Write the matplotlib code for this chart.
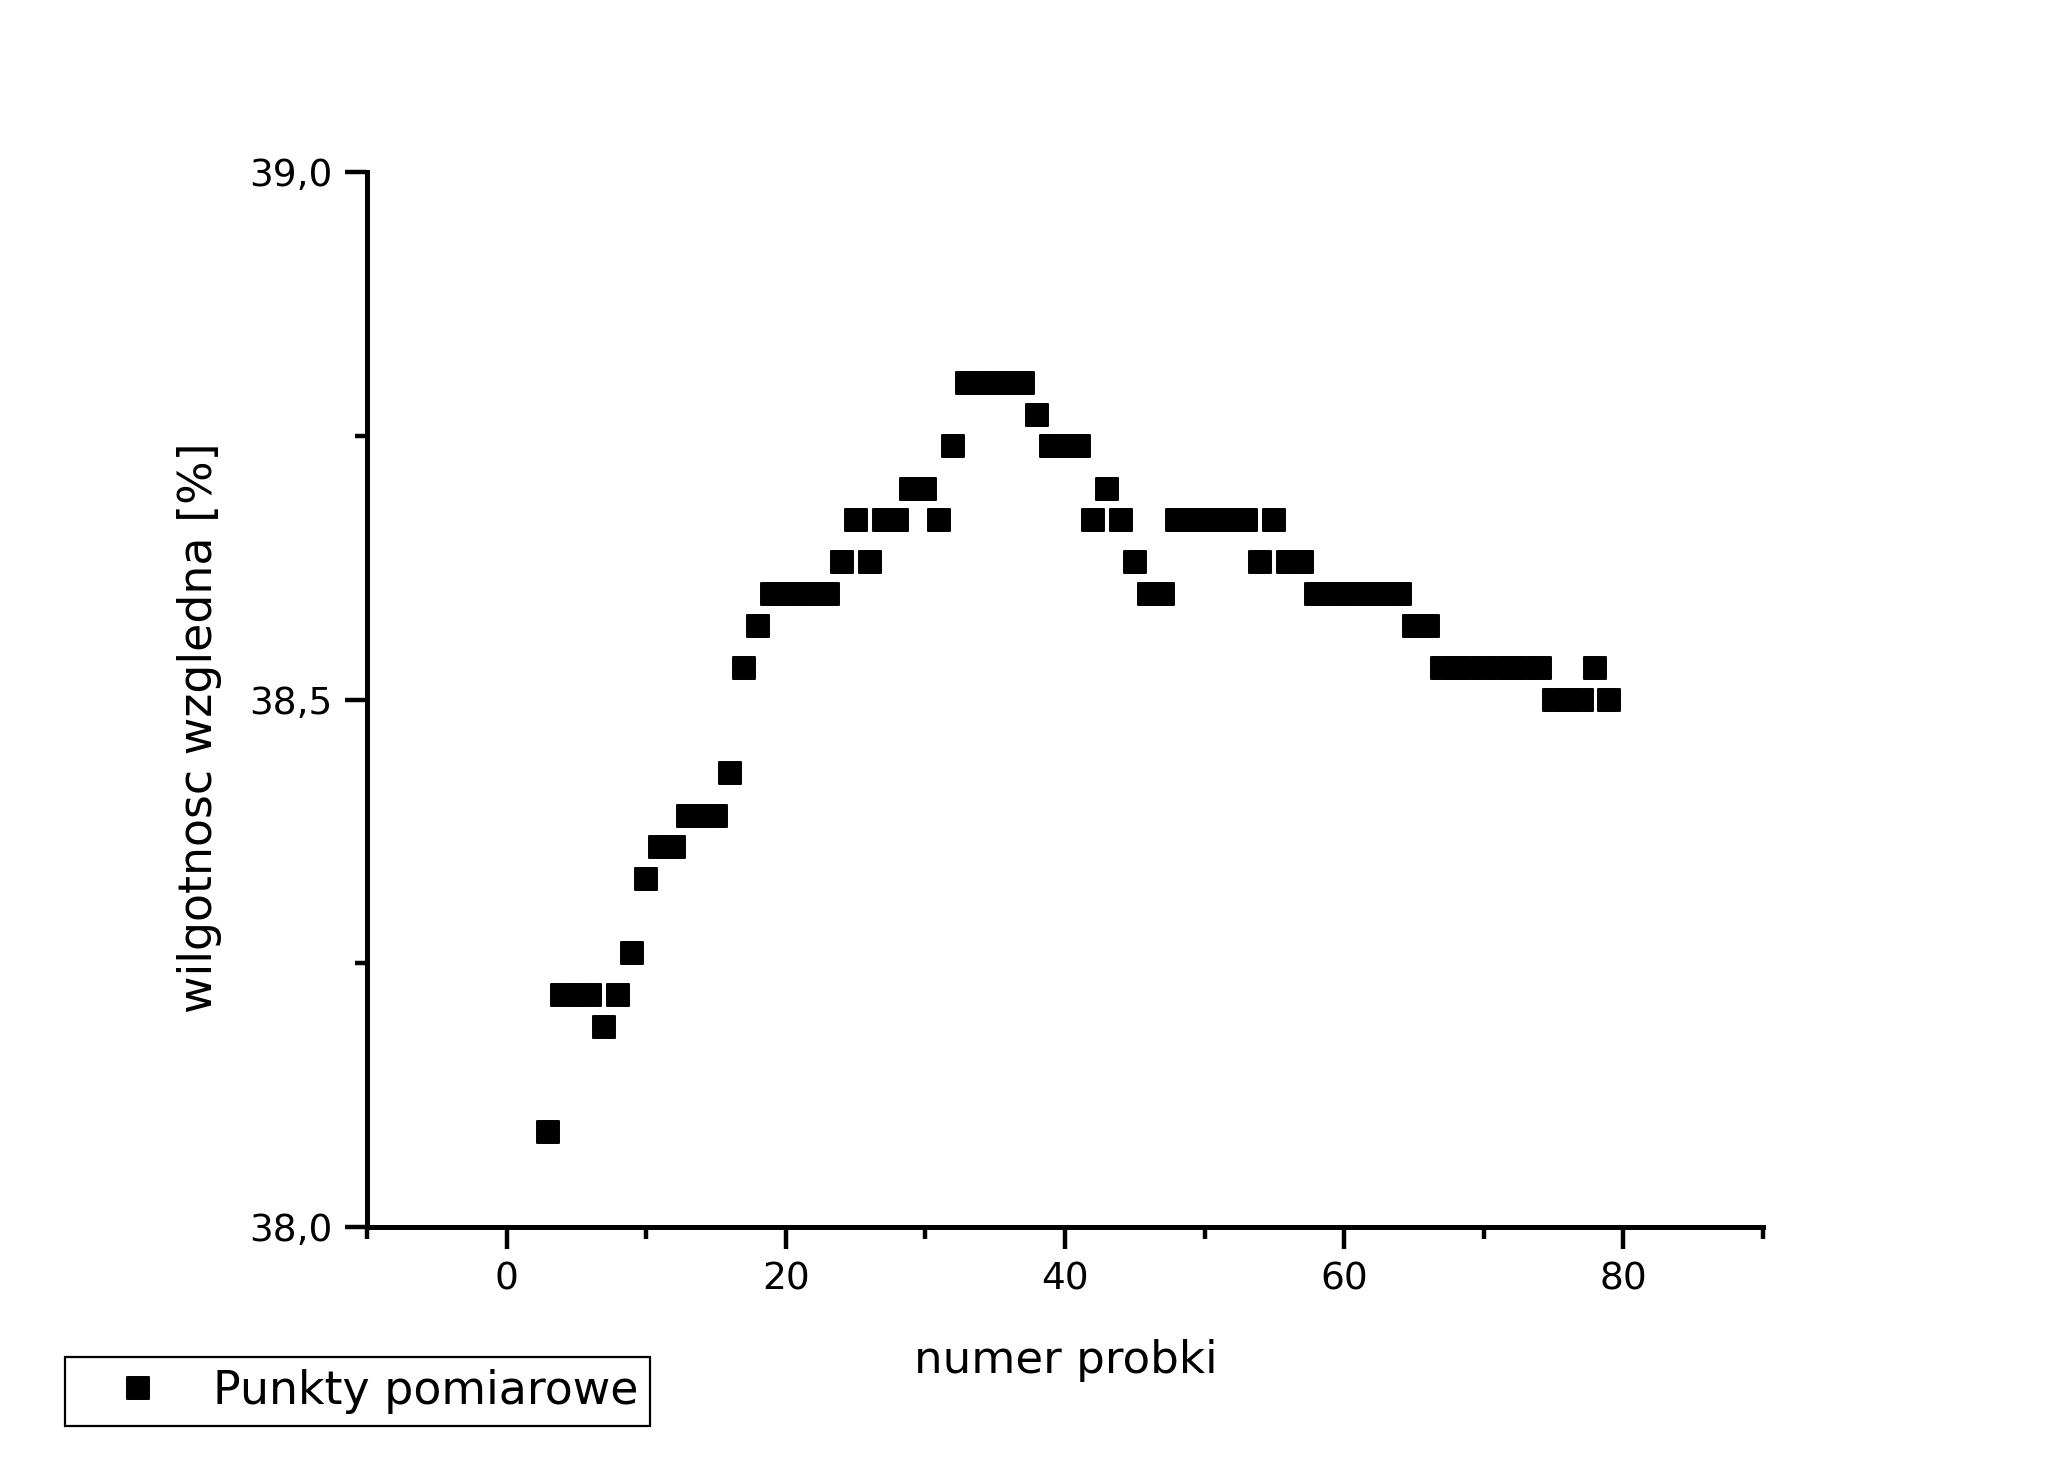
import matplotlib
matplotlib.use("Agg")
import matplotlib.pyplot as plt
from matplotlib.markers import MarkerStyle
from matplotlib.ticker import MultipleLocator, FuncFormatter

plt.rcParams['font.family'] = ['DejaVu Sans']

# sample number
probka = list(range(3, 80))
# relative humidity [%]
wilgotnosc = [
    38.09,                      # 3
    38.22, 38.22, 38.22,        # 4-6
    38.19,                      # 7
    38.22,                      # 8
    38.26,                      # 9
    38.33,                      # 10
    38.36, 38.36,               # 11-12
    38.39, 38.39, 38.39,        # 13-15
    38.43,                      # 16
    38.53,                      # 17
    38.57,                      # 18
    38.60, 38.60, 38.60, 38.60, 38.60,  # 19-23
    38.63,                      # 24
    38.67,                      # 25
    38.63,                      # 26
    38.67, 38.67,               # 27-28
    38.70, 38.70,               # 29-30
    38.67,                      # 31
    38.74,                      # 32
    38.80, 38.80, 38.80, 38.80, 38.80,  # 33-37
    38.77,                      # 38
    38.74, 38.74, 38.74,        # 39-41
    38.67,                      # 42
    38.70,                      # 43
    38.67,                      # 44
    38.63,                      # 45
    38.60, 38.60,               # 46-47
    38.67, 38.67, 38.67, 38.67, 38.67, 38.67,  # 48-53
    38.63,                      # 54
    38.67,                      # 55
    38.63, 38.63,               # 56-57
    38.60, 38.60, 38.60, 38.60, 38.60, 38.60, 38.60,  # 58-64
    38.57, 38.57,               # 65-66
    38.53, 38.53, 38.53, 38.53, 38.53, 38.53, 38.53, 38.53,  # 67-74
    38.50, 38.50, 38.50,        # 75-77
    38.53,                      # 78
    38.50,                      # 79
]

W, H = 2048, 1471
fig = plt.figure(figsize=(W / 100, H / 100), dpi=100)
ax = fig.add_axes([367 / W, (H - 1227) / H, (1763 - 367) / W, (1227 - 172) / H])

mk = MarkerStyle('s', joinstyle='round')
ln, = ax.plot(probka, wilgotnosc, linestyle='none', marker=mk, markersize=16.3,
              markerfacecolor='black', markeredgecolor='black', markeredgewidth=1.4,
              label='Punkty pomiarowe', clip_on=False)

ax.set_xlim(-10, 90)
ax.set_ylim(38.0, 39.0)

ax.spines['top'].set_visible(False)
ax.spines['right'].set_visible(False)
for s in ('left', 'bottom'):
    ax.spines[s].set_linewidth(3.6)
    ax.spines[s].set_capstyle('projecting')

ax.xaxis.set_major_locator(MultipleLocator(20))
ax.xaxis.set_minor_locator(MultipleLocator(10))
ax.yaxis.set_major_locator(MultipleLocator(0.5))
ax.yaxis.set_minor_locator(MultipleLocator(0.25))

ax.yaxis.set_major_formatter(FuncFormatter(lambda v, p: f"{v:.1f}".replace('.', ',')))
ax.xaxis.set_major_formatter(FuncFormatter(lambda v, p: f"{v:.0f}"))

ax.tick_params(which='major', direction='out', length=16, width=3.2, labelsize=27, pad=9)
ax.tick_params(which='minor', direction='out', length=8.5, width=3.2)

fig.text(1066 / W, 1 - 1361 / H, 'numer probki', ha='center', va='center', fontsize=32.5)
fig.text(200 / W, 1 - 728 / H, 'wilgotnosc wzgledna [%]', ha='center', va='center',
         rotation=90, fontsize=33)

leg = fig.legend(handles=[ln], loc='lower left',
                 bbox_to_anchor=(65 / W, (H - 1426) / H), bbox_transform=fig.transFigure,
                 borderaxespad=0, frameon=True, fancybox=False, edgecolor='black',
                 framealpha=1, fontsize=33, handlelength=2.66, handletextpad=0.31,
                 borderpad=0.26, markerscale=1.0)
leg.get_frame().set_linewidth(1.6)

fig.savefig('out.png', dpi=100, facecolor='white')
